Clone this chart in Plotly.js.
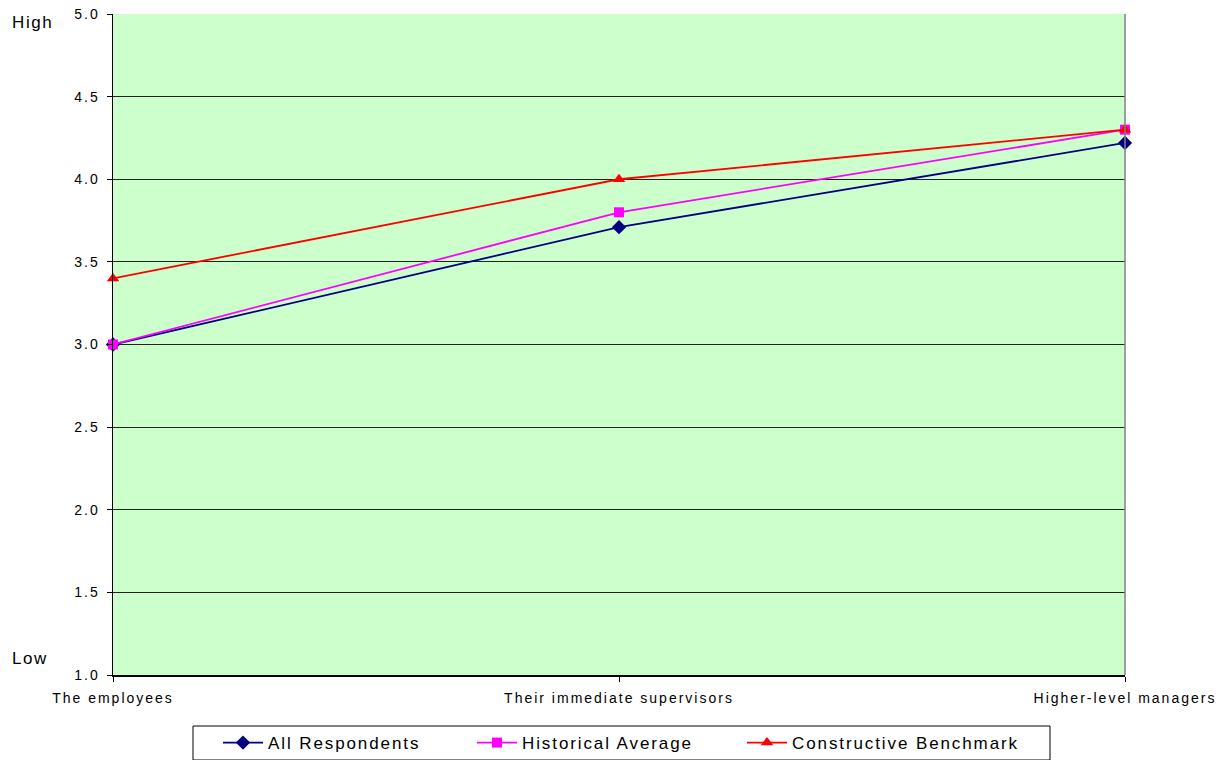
<!DOCTYPE html>
<html>
<head>
<meta charset="utf-8">
<script src="https://cdn.plot.ly/plotly-3.0.1.min.js"></script>
<style>
  html, body { margin: 0; padding: 0; background: #fff; }
  #chart { width: 1227px; height: 760px; }
  /* slightly tracked-out axis labels */
  #chart .xtick text, #chart .ytick text { letter-spacing: 2px; }
</style>
</head>
<body>
<div id="chart"></div>
<script>
// Groups rated on the 1 (Low) to 5 (High) scale
const categories = ["The employees", "Their immediate supervisors", "Higher-level managers"];

const allRespondents = [3.0, 3.71, 4.22];
const historicalAverage = [3.0, 3.8, 4.3];
const constructiveBenchmark = [3.4, 4.0, 4.3];

const seriesNames = ["All Respondents", "Historical Average", "Constructive Benchmark"];

const yTicks = [1.0, 1.5, 2.0, 2.5, 3.0, 3.5, 4.0, 4.5, 5.0];
const yTickText = ["1.0", "1.5", "2.0", "2.5", "3.0", "3.5", "4.0", "4.5", "5.0"];

const FONT = "Liberation Sans, Arial, sans-serif";
const tracked = (s, ls) => '<span style="letter-spacing:' + ls + 'px">' + s + '</span>';

// plot area in pixels
const PL = 113, PR = 1125, PT = 14, PB = 675;
const px = v => (v - PL) / (PR - PL);
const py = v => (PB - v) / (PB - PT);

function series(name, legendId, values, color, symbol, size) {
  return {
    type: "scatter",
    mode: "lines+markers",
    name: tracked(name, 1.9),
    legend: legendId,
    x: categories,
    y: values,
    line: { color: color, width: 1.8 },
    marker: { color: color, symbol: symbol, size: size },
    cliponaxis: false
  };
}

const data = [
  series(seriesNames[0], "legend", allRespondents, "#000080", "diamond", 11),
  series(seriesNames[1], "legend2", historicalAverage, "#FF00FF", "square", 10),
  series(seriesNames[2], "legend3", constructiveBenchmark, "#FF0000", "triangle-up", 11)
];

function legendAt(xPix) {
  return {
    orientation: "h",
    x: px(xPix), xanchor: "left",
    y: py(725), yanchor: "top",
    borderwidth: 0,
    bgcolor: "rgba(0,0,0,0)",
    font: { family: FONT, size: 17, color: "#000" },
    itemwidth: 40
  };
}

const layout = {
  width: 1227,
  height: 760,
  margin: { l: PL, r: 1227 - PR, t: PT, b: 760 - PB, autoexpand: false },
  paper_bgcolor: "#ffffff",
  plot_bgcolor: "#CCFFCC",
  font: { family: FONT, size: 14, color: "#000" },
  showlegend: true,
  legend: legendAt(218),
  legend2: legendAt(472),
  legend3: legendAt(742),
  xaxis: {
    type: "category",
    range: [0, 2],
    showgrid: false,
    zeroline: false,
    showline: true,
    linecolor: "#000",
    linewidth: 1.5,
    ticks: "outside",
    ticklen: 5,
    tickcolor: "#000",
    ticklabelstandoff: 5,
    tickfont: { family: FONT, size: 14, color: "#000" },
    fixedrange: true
  },
  yaxis: {
    range: [1, 5],
    tickvals: yTicks,
    ticktext: yTickText,
    showgrid: true,
    gridcolor: "#222",
    gridwidth: 1,
    zeroline: false,
    showline: true,
    linecolor: "#000",
    linewidth: 1.5,
    ticks: "outside",
    ticklen: 5,
    tickcolor: "#000",
    ticklabelstandoff: 4,
    tickfont: { family: FONT, size: 14, color: "#000" },
    fixedrange: true
  },
  shapes: [
    {
      type: "line", xref: "paper", yref: "paper",
      x0: 1, x1: 1, y0: 0, y1: 1,
      line: { color: "#808080", width: 1.5 }
    },
    {
      // legend frame
      type: "rect", xref: "paper", yref: "paper",
      x0: px(193), x1: px(1050), y0: py(760), y1: py(726),
      line: { color: "#000", width: 1 },
      fillcolor: "rgba(0,0,0,0)"
    }
  ],
  annotations: [
    {
      text: tracked("High", 1.6), xref: "paper", yref: "paper",
      x: px(10), y: py(22), xanchor: "left", yanchor: "middle",
      showarrow: false, font: { family: FONT, size: 17, color: "#000" }
    },
    {
      text: tracked("Low", 1.6), xref: "paper", yref: "paper",
      x: px(10), y: py(658), xanchor: "left", yanchor: "middle",
      showarrow: false, font: { family: FONT, size: 17, color: "#000" }
    }
  ]
};

Plotly.newPlot("chart", data, layout, { displayModeBar: false, staticPlot: true });
</script>
</body>
</html>
